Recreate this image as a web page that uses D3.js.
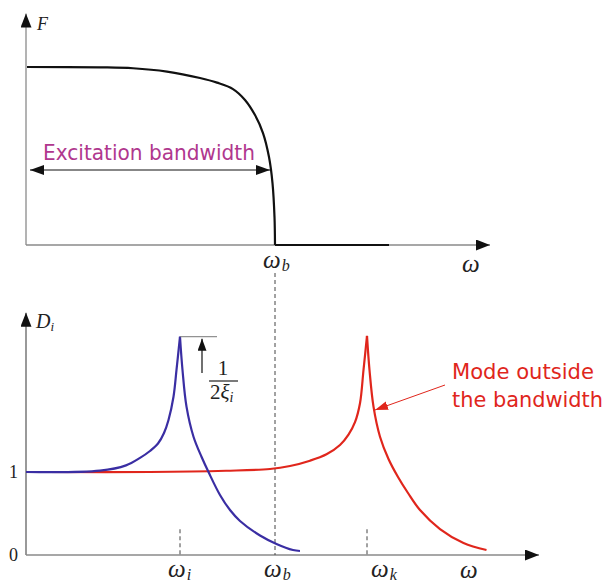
<!DOCTYPE html>
<html>
<head>
<meta charset="utf-8">
<script src="https://cdn.jsdelivr.net/npm/d3@7"></script>
<style>
  body { margin: 0; background: #fff; }
  svg { display: block; }
  .math { font-family: "Liberation Serif", "DejaVu Serif", serif; fill: #222; }
  .it { font-style: italic; }
  .hand { font-family: "DejaVu Sans", "Noto Sans", sans-serif; }
</style>
</head>
<body>
<svg id="chart" width="604" height="586"></svg>
<script>
// Characteristic frequencies (same ω units on both panels)
const omegaB = 4.98;   // excitation bandwidth limit
const omegaI = 3.08;   // mode i, inside the band
const omegaK = 6.82;   // mode k, outside the band

// Excitation spectrum F(ω), pass band and the zero tail beyond ω_b
const excitationPass = [
  [0.02, 1.0], [1.48, 0.998], [2.14, 0.993], [2.82, 0.974], [3.48, 0.938],
  [3.82, 0.912], [4.14, 0.876], [4.38, 0.815], [4.58, 0.730], [4.74, 0.629],
  [4.86, 0.494], [4.93, 0.348], [4.97, 0.157], [4.98, 0.0]
];
const excitationStop = [[4.98, 0.0], [7.26, 0.0]];

// Dynamic amplification D_i(ω) of mode i (peak = 1/2ξ_i)
const modeI = [
  [0.0, 1.0], [1.48, 1.016], [2.0, 1.08], [2.28, 1.17], [2.48, 1.253],
  [2.64, 1.343], [2.76, 1.47], [2.85, 1.627], [2.95, 1.907], [3.01, 2.229],
  [3.08, 2.63],
  [3.13, 2.229], [3.21, 1.787], [3.35, 1.425], [3.51, 1.184], [3.65, 1.0],
  [3.88, 0.723], [4.08, 0.542], [4.28, 0.41], [4.68, 0.235], [5.01, 0.133],
  [5.34, 0.06], [5.48, 0.048]
];
const modeIPeak = 10;

// Dynamic amplification of mode k
const modeK = [
  [0.4, 1.0], [2.48, 1.0], [4.0, 1.015], [4.88, 1.036], [5.28, 1.072],
  [5.68, 1.136], [6.01, 1.213], [6.28, 1.325], [6.45, 1.45], [6.58, 1.6],
  [6.68, 1.828], [6.75, 2.229], [6.82, 2.64],
  [6.87, 2.229], [6.95, 1.787], [7.08, 1.425], [7.25, 1.157], [7.44, 0.94],
  [7.64, 0.747], [7.88, 0.542], [8.28, 0.313], [8.75, 0.145], [9.21, 0.06]
];
const modeKPeak = 12;

const dTicks = [0, 1];

const svg = d3.select("#chart");

// Scales
const x = d3.scaleLinear().domain([0, 10]).range([26, 526]);
const yF = d3.scaleLinear().domain([0, 1]).range([245, 67]);
const yD = d3.scaleLinear().domain([0, 1]).range([555, 472]);

const axisEndTop = 9.28, axisEndBottom = 10.26;
const fAxisTop = 1.3, dAxisTop = 2.92;

// Arrowhead markers
const defs = svg.append("defs");
function marker(id, color, len, half) {
  defs.append("marker")
    .attr("id", id)
    .attr("viewBox", `0 ${-half} ${len} ${2 * half}`)
    .attr("refX", len).attr("refY", 0)
    .attr("markerUnits", "userSpaceOnUse")
    .attr("markerWidth", len).attr("markerHeight", 2 * half)
    .attr("orient", "auto-start-reverse")
    .append("path")
    .attr("d", `M0,${-half}L${len},0L0,${half}Z`)
    .attr("fill", color);
}
marker("axisHead", "#111", 14, 5.5);
marker("bandHead", "#111", 14, 5);
marker("peakHead", "#111", 12, 4.5);
marker("redHead", "#e0261c", 13, 4.5);

const axisGrey = "#8a8a8a";

// ---------- Top panel: excitation spectrum ----------
const topPanel = svg.append("g");

topPanel.append("line")
  .attr("x1", x(0)).attr("y1", yF(0))
  .attr("x2", x(0)).attr("y2", yF(fAxisTop))
  .attr("stroke", axisGrey).attr("stroke-width", 1.3)
  .attr("marker-end", "url(#axisHead)");
topPanel.append("line")
  .attr("x1", x(0)).attr("y1", yF(0))
  .attr("x2", x(axisEndTop)).attr("y2", yF(0))
  .attr("stroke", axisGrey).attr("stroke-width", 1.3)
  .attr("marker-end", "url(#axisHead)");

const lineF = d3.line()
  .x(d => x(d[0])).y(d => yF(d[1]))
  .curve(d3.curveCatmullRom.alpha(0.5));
topPanel.append("path").datum(excitationPass)
  .attr("d", lineF).attr("fill", "none")
  .attr("stroke", "#111").attr("stroke-width", 2.2);
topPanel.append("path").datum(excitationStop)
  .attr("d", d3.line().x(d => x(d[0])).y(d => yF(d[1])))
  .attr("fill", "none").attr("stroke", "#111").attr("stroke-width", 2.2);

// Excitation bandwidth double arrow
topPanel.append("line")
  .attr("x1", x(0.08)).attr("y1", 170)
  .attr("x2", x(4.88)).attr("y2", 170)
  .attr("stroke", "#111").attr("stroke-width", 1.2)
  .attr("marker-start", "url(#bandHead)")
  .attr("marker-end", "url(#bandHead)");
topPanel.append("text")
  .attr("class", "hand")
  .attr("x", 43).attr("y", 160)
  .attr("textLength", 212).attr("lengthAdjust", "spacingAndGlyphs")
  .attr("font-size", 21)
  .attr("fill", "#b0378e")
  .text("Excitation bandwidth");

topPanel.append("text")
  .attr("class", "math it")
  .attr("x", 37).attr("y", 30)
  .attr("font-size", 18).text("F");

function omegaLabel(g, cx, baseline, sub) {
  const t = g.append("text")
    .attr("class", "math it")
    .attr("x", cx).attr("y", baseline)
    .attr("font-size", 25);
  t.append("tspan").text("ω");
  if (sub) {
    t.append("tspan").attr("font-size", 16).attr("dy", 3).attr("dx", 1).text(sub);
  }
  return t;
}
omegaLabel(topPanel, 263, 268, "b");
omegaLabel(topPanel, 462, 272, null);

// ---------- Bottom panel: dynamic amplification ----------
const bottomPanel = svg.append("g");

bottomPanel.append("line")
  .attr("x1", x(0)).attr("y1", yD(0))
  .attr("x2", x(0)).attr("y2", yD(dAxisTop))
  .attr("stroke", "#555").attr("stroke-width", 1.2)
  .attr("marker-end", "url(#axisHead)");
bottomPanel.append("line")
  .attr("x1", x(0)).attr("y1", yD(0))
  .attr("x2", x(axisEndBottom)).attr("y2", yD(0))
  .attr("stroke", axisGrey).attr("stroke-width", 1.3)
  .attr("marker-end", "url(#axisHead)");

// ω_b guide shared by both panels
bottomPanel.append("line")
  .attr("x1", x(omegaB)).attr("y1", 273)
  .attr("x2", x(omegaB)).attr("y2", yD(0))
  .attr("stroke", "#444").attr("stroke-width", 1)
  .attr("stroke-dasharray", "4,3");

// Short dashed ticks at the natural frequencies
[omegaI, omegaK].forEach(w => {
  bottomPanel.append("line")
    .attr("x1", x(w)).attr("y1", yD(0.31))
    .attr("x2", x(w)).attr("y2", yD(0))
    .attr("stroke", "#444").attr("stroke-width", 1)
    .attr("stroke-dasharray", "4,3");
});

bottomPanel.selectAll("text.dtick").data(dTicks).join("text")
  .attr("class", "dtick math")
  .attr("x", 18).attr("y", d => yD(d) + 6)
  .attr("text-anchor", "end")
  .attr("font-size", 18)
  .text(d => d);

const dl = bottomPanel.append("text")
  .attr("class", "math it")
  .attr("x", 36).attr("y", 328)
  .attr("font-size", 20);
dl.append("tspan").text("D");
dl.append("tspan").attr("font-size", 13).attr("dy", 3).text("i");

const lineD = d3.line()
  .x(d => x(d[0])).y(d => yD(d[1]))
  .curve(d3.curveCatmullRom.alpha(0.5));

function drawMode(data, peak, color) {
  [data.slice(0, peak + 1), data.slice(peak)].forEach(branch => {
    bottomPanel.append("path").datum(branch)
      .attr("d", lineD).attr("fill", "none")
      .attr("stroke", color).attr("stroke-width", 2.2)
      .attr("stroke-linejoin", "round");
  });
}
drawMode(modeK, modeKPeak, "#e0261c");
drawMode(modeI, modeIPeak, "#3a2ea3");

// Peak height annotation 1/(2ξ_i)
const peakY = yD(modeI[modeIPeak][1]);
bottomPanel.append("line")
  .attr("x1", x(omegaI)).attr("y1", peakY)
  .attr("x2", 217).attr("y2", peakY)
  .attr("stroke", "#777").attr("stroke-width", 1);
bottomPanel.append("line")
  .attr("x1", 202).attr("y1", 373)
  .attr("x2", 202).attr("y2", peakY + 2)
  .attr("stroke", "#111").attr("stroke-width", 1.2)
  .attr("marker-end", "url(#peakHead)");
bottomPanel.append("text")
  .attr("class", "math")
  .attr("x", 223).attr("y", 375)
  .attr("text-anchor", "middle")
  .attr("font-size", 21)
  .text("1");
bottomPanel.append("line")
  .attr("x1", 209).attr("y1", 381).attr("x2", 238).attr("y2", 381)
  .attr("stroke", "#222").attr("stroke-width", 1.2);
const frac = bottomPanel.append("text")
  .attr("class", "math")
  .attr("x", 210).attr("y", 399)
  .attr("font-size", 21);
frac.append("tspan").text("2");
frac.append("tspan").attr("class", "it").text("ξ");
frac.append("tspan").attr("class", "it").attr("font-size", 14).attr("dy", 3).text("i");

// Frequency labels on the ω axis
omegaLabel(bottomPanel, 168, 577, "i");
omegaLabel(bottomPanel, 264, 577, "b");
omegaLabel(bottomPanel, 371, 577, "k");
omegaLabel(bottomPanel, 460, 578, null);

// Callout for the out-of-band mode
bottomPanel.append("line")
  .attr("x1", 445).attr("y1", 385)
  .attr("x2", 375).attr("y2", 410)
  .attr("stroke", "#e0261c").attr("stroke-width", 1)
  .attr("marker-end", "url(#redHead)");
const callout = bottomPanel.append("text")
  .attr("class", "hand")
  .attr("font-size", 21).attr("fill", "#e0261c");
callout.append("tspan").attr("x", 452).attr("y", 379)
  .attr("textLength", 142).attr("lengthAdjust", "spacingAndGlyphs")
  .text("Mode outside");
callout.append("tspan").attr("x", 452).attr("y", 407)
  .attr("textLength", 151).attr("lengthAdjust", "spacingAndGlyphs")
  .text("the bandwidth");
</script>
</body>
</html>
